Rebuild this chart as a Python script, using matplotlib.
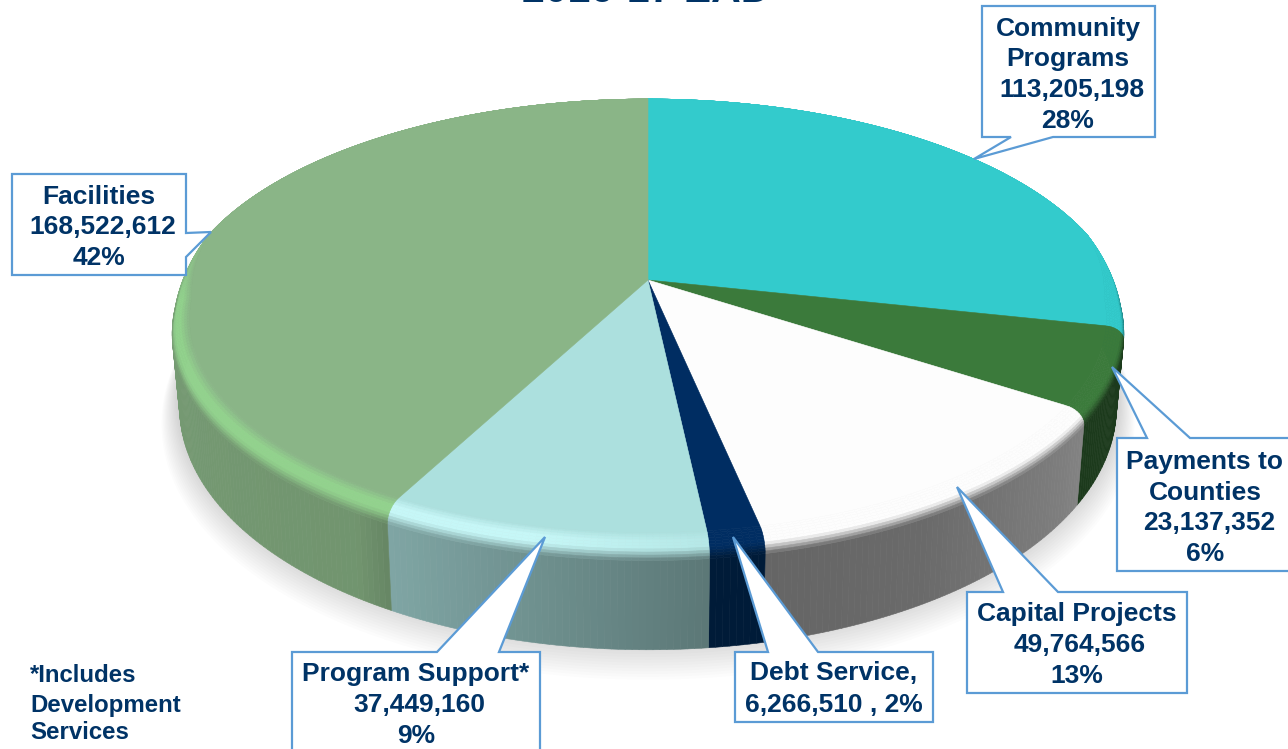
import numpy as np
import matplotlib
matplotlib.use("Agg")
import matplotlib.pyplot as plt
from matplotlib.collections import PolyCollection
from matplotlib.patches import Polygon

# ---- data ----
categories = ["Community Programs", "Payments to Counties", "Capital Projects",
              "Debt Service", "Program Support", "Facilities"]
values = [113205198, 23137352, 49764566, 6266510, 37449160, 168522612]

# ---- style ----
top_colors = [(51, 203, 204), (59, 122, 59), (253, 253, 253), (0, 45, 98), (172, 224, 222), (138, 181, 135)]
highlight_colors = [(51, 203, 204), (70, 140, 70), (253, 253, 253), (0, 45, 98), (198, 247, 247), (146, 210, 141)]
side_override = [None, (28, 58, 28), None, (0, 27, 56), None, None]
TEXT = "#003366"
EDGE = "#5B9BD5"
FONT = "Liberation Sans"

W, H = 1288, 749
fig = plt.figure(figsize=(W / 100, H / 100), dpi=100)
ax = fig.add_axes([0, 0, 1, 1])
ax.set_xlim(0, W)
ax.set_ylim(H, 0)
ax.axis("off")

# ---- perspective projection of the pie disc ----
CX, CY, A, B, K = 648.0, 280.0, 468.6, 215.0, 0.188
R0, SB = 0.962, 0.15


def project(theta, r=1.0, s=0.0):
    """theta: clockwise from 12 o'clock; s: fraction of the way down the wall."""
    u = r * np.sin(theta)
    v = r * np.cos(theta)
    w = 1 + K * v
    X = A * u / w
    Y = B * v / w
    drop = 80 + 25 * (-np.cos(theta))
    return np.column_stack((CX + X * (1 - 0.018 * s), CY - Y + drop * s))


def fade(theta):
    return np.clip((0.22 - np.cos(theta)) / 0.3, 0, 1)


shares = np.array(values, dtype=float) / np.sum(values)
edges = np.concatenate(([0], np.cumsum(shares))) * 2 * np.pi

# soft shadow under the pie
full = np.linspace(0, 2 * np.pi, 361)
for i in range(16):
    e = i / 15
    ax.add_patch(Polygon(project(full, 1 + 0.04 * e, 1 + 0.28 * e - 0.12), closed=True,
                         fc="black", ec="none", alpha=0.011, zorder=1))


def lerp(a, b, t):
    return np.asarray(a) + (np.asarray(b) - np.asarray(a)) * t


wall_polys, wall_cols, bevel_polys, bevel_cols = [], [], [], []
for i, (a0, a1) in enumerate(zip(edges[:-1], edges[1:])):
    th = np.linspace(a0, a1, max(int((a1 - a0) / np.radians(0.7)), 2) + 1)
    top = np.array(top_colors[i], float)
    f = fade(th)
    r_in = 1 - (1 - R0) * f
    s_b = SB * f
    mx = np.sin(th)
    mult = np.interp(mx, [-1, -.52, -.46, .12, .22, .5, .8, .9, 1],
                     [.85, .82, .74, .53, .40, .42, .5, .55, .55])
    g = np.interp(mx, [-1, -.2, .15, 1], [1, 1, .25, 0]) * f
    for j in range(len(th) - 1):
        side = np.array(side_override[i], float) if side_override[i] else top * mult[j]
        t2 = th[j:j + 2]
        # wall
        p_up = project(t2, 1.0, s_b[j:j + 2])
        p_lo = project(t2, 1.0, np.ones(2))
        wall_polys.append(np.vstack((p_up, p_lo[::-1])))
        wall_cols.append(side / 255)
        # bevel band
        ts = np.linspace(0, 1, 11)
        hl = lerp(top, highlight_colors[i], g[j])
        end = lerp(hl, side, f[j] ** 2)
        for k in range(10):
            ta, tb = ts[k], ts[k + 1]
            ra = r_in[j:j + 2] + (1 - r_in[j:j + 2]) * np.sin(ta * np.pi / 2)
            rb = r_in[j:j + 2] + (1 - r_in[j:j + 2]) * np.sin(tb * np.pi / 2)
            sa = s_b[j:j + 2] * (1 - np.cos(ta * np.pi / 2))
            sb = s_b[j:j + 2] * (1 - np.cos(tb * np.pi / 2))
            q = np.vstack((project(t2, ra, sa), project(t2, rb, sb)[::-1]))
            tm = (ta + tb) / 2
            if tm < .35:
                c = lerp(top, hl, tm / .35)
            elif tm < .6:
                c = hl
            else:
                c = lerp(hl, end, (tm - .6) / .4)
            bevel_polys.append(q)
            bevel_cols.append(np.clip(c, 0, 255) / 255)
    # top face
    face = np.vstack(([[CX, CY]], project(th, r_in, 0.0)))
    ax.add_patch(Polygon(face, closed=True, fc=top / 255, ec=top / 255, lw=0.4, zorder=4))

ax.add_collection(PolyCollection(wall_polys, facecolors=wall_cols, edgecolors=wall_cols,
                                 linewidths=0.4, zorder=2))
ax.add_collection(PolyCollection(bevel_polys, facecolors=bevel_cols, edgecolors=bevel_cols,
                                 linewidths=0.4, zorder=3))

# ---- callouts ----
callout_shapes = [
    [(982, 6), (1155, 6), (1155, 137), (1053, 137), (974, 159), (1011, 137), (982, 137)],
    [(1117, 438), (1147, 438), (1112, 367), (1190, 438), (1292, 438), (1292, 571), (1117, 571)],
    [(967, 592), (1003, 592), (957, 487), (1058, 592), (1187, 592), (1187, 693), (967, 693)],
    [(735, 652), (768, 652), (733, 537), (818, 652), (933, 652), (933, 722), (735, 722)],
    [(292, 652), (437, 652), (545, 537), (499, 652), (540, 652), (540, 760), (292, 760)],
    [(12, 174), (186, 174), (186, 233), (211, 232), (186, 257), (186, 275), (12, 275)],
]
for shape in callout_shapes:
    ax.add_patch(Polygon(shape, closed=True, fc="white", ec=EDGE, lw=1.6, joinstyle="miter", zorder=6))

label_lines = [
    ("Community", 1068, 36), ("Programs", 1068, 66), ("113,205,198", 1072, 97), ("28%", 1068, 128),
    ("Payments to", 1205, 469), ("Counties", 1205, 500), ("23,137,352", 1209, 530), ("6%", 1205, 561),
    ("Capital Projects", 1077, 621), ("49,764,566", 1080, 652), ("13%", 1077, 683),
    ("Debt Service,", 834, 680), ("6,266,510 , 2%", 834, 712),
    ("Program Support*", 416, 681), ("37,449,160", 419, 712), ("9%", 416, 743),
    ("Facilities", 99, 204), ("168,522,612", 103, 234), ("42%", 99, 265),
]
for txt, x, y in label_lines:
    ax.text(x, y, txt, ha="center", va="baseline", color=TEXT, fontsize=19.0,
            fontfamily=FONT, fontweight="bold", zorder=7)

footnote_lines = [("*Includes", 682), ("Development", 712), ("Services", 739)]
for txt, y in footnote_lines:
    ax.text(30, y, txt, ha="left", va="baseline", color=TEXT, fontsize=17.3,
            fontfamily=FONT, fontweight="bold", zorder=7)

# title is cropped by the top edge in the reference
ax.text(646, 2.5, "2016-17 EAD", ha="center", va="baseline", color=TEXT, fontsize=29.5,
        fontfamily=FONT, fontweight="bold", zorder=7, clip_on=False)

fig.savefig("out.png", dpi=100, facecolor="white")
